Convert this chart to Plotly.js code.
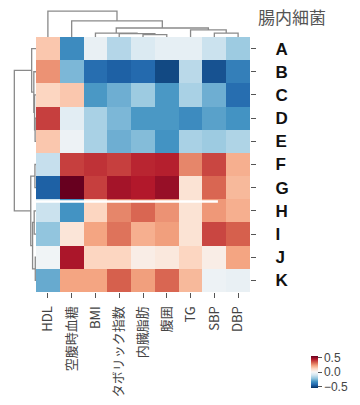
<!DOCTYPE html>
<html><head><meta charset="utf-8">
<script src="https://cdn.plot.ly/plotly-3.0.1.min.js"></script>
<style>html,body{margin:0;padding:0;background:#fff}</style>
</head><body><div id="chart" style="width:360px;height:405px"></div>
<script>
// ---- data ----
const columns = ["HDL","空腹時血糖","BMI","タボリック指数","内臓脂肪","腹囲","TG","SBP","DBP"];
const rows = ["A","B","C","D","E","F","G","H","I","J","K"];
const rowA = [ 0.15,-0.35,-0.04,-0.16,-0.08,-0.05,-0.05,-0.12,-0.20];
const rowB = [ 0.25,-0.25,-0.42,-0.45,-0.43,-0.50,-0.15,-0.48,-0.38];
const rowC = [ 0.12, 0.15,-0.32,-0.27,-0.20,-0.32,-0.18,-0.27,-0.42];
const rowD = [ 0.38,-0.06,-0.18,-0.25,-0.32,-0.32,-0.35,-0.30,-0.33];
const rowE = [ 0.15,-0.03,-0.18,-0.27,-0.24,-0.33,-0.18,-0.20,-0.17];
const rowF = [-0.13, 0.38, 0.40, 0.38, 0.42, 0.43, 0.27, 0.37, 0.20];
const rowG = [-0.45, 0.55, 0.38, 0.46, 0.44, 0.48, 0.08, 0.32, 0.18];
const rowH = [-0.12,-0.33, 0.12, 0.27, 0.32, 0.25, 0.08, 0.24, 0.20];
const rowI = [-0.22, 0.07, 0.22, 0.30, 0.20, 0.23, 0.08, 0.37, 0.33];
const rowJ = [-0.02, 0.45, 0.12, 0.12, 0.04, 0.06, 0.12, 0.04, 0.22];
const rowK = [-0.28, 0.22, 0.22, 0.33, 0.23, 0.32, 0.18,-0.03,-0.04];
const colorTicks = [-0.5, 0, 0.5];
const colorTickText = ["−0.5","0.0","0.5"];

// column dendrogram (leaf positions, heights)
const colLinkPos = [[7,7,8,8],[6,6,7.5,7.5],[4,4,5,5],[3,3,4.5,4.5],[2,2,3.75,3.75],[2.875,2.875,6.75,6.75],[1,1,4.8125,4.8125],[0,0,2.906,2.906]];
const colLinkH   = [[0,.9,.9,0],[0,1.6,1.6,.9],[0,.55,.55,0],[0,.75,.75,.55],[0,.9,.9,.75],[.9,2.05,2.05,1.6],[0,3.65,3.65,2.05],[0,5.9,5.9,3.65]];
// row dendrogram
const rowLinkPos = [[3,3,4,4],[2,2,3.5,3.5],[1,1,2.75,2.75],[0,0,1.875,1.875],[5,5,6,6],[7,7,8,8],[9,9,10,10],[7.5,7.5,9.5,9.5],[5.5,5.5,8.5,8.5],[0.9375,0.9375,7,7]];
const rowLinkH   = [[0,.25,.25,0],[0,.4,.4,.25],[0,.6,.6,.4],[0,1.2,1.2,.6],[0,.3,.3,0],[0,.5,.5,0],[0,.2,.2,0],[.5,.95,.95,.2],[.3,1.45,1.45,.95],[1.2,6,6,1.45]];

// ---- build ----
const z = [rowA,rowB,rowC,rowD,rowE,rowF,rowG,rowH,rowI,rowJ,rowK];
const colIdx = columns.map((_,i)=>i);
const rowIdx = rows.map((_,i)=>i);
const rdbu = [[0,'#053061'],[0.1,'#2166ac'],[0.2,'#4393c3'],[0.3,'#92c5de'],[0.4,'#d1e5f0'],[0.5,'#f7f7f7'],[0.6,'#fddbc7'],[0.7,'#f4a582'],[0.8,'#d6604d'],[0.9,'#b2182b'],[1,'#67001f']];

const traces = [{
  type:'heatmap', z:z, x:colIdx, y:rowIdx, colorscale:rdbu, zmin:-0.55, zmax:0.55,
  xaxis:'x', yaxis:'y', hoverinfo:'skip',
  colorbar:{x:311/360, xanchor:'left', y:1-372/405, yanchor:'middle', lenmode:'pixels', len:32,
    ypad:0, xpad:0, thickness:7, outlinewidth:0, ticks:'outside', ticklen:4, tickcolor:'#555',
    tickvals:colorTicks, ticktext:colorTickText,
    tickfont:{family:'Liberation Sans, Arial, sans-serif', size:12, color:'#444'}}
}];
const dcol = {color:'#8a8a8a', width:1.3};
let cx=[], cy=[];
colLinkPos.forEach((p,i)=>{cx.push(...p,null); cy.push(...colLinkH[i],null);});
traces.push({type:'scatter', mode:'lines', x:cx, y:cy, xaxis:'x2', yaxis:'y2', line:dcol, hoverinfo:'skip', connectgaps:false});
let rx=[], ry=[];
rowLinkPos.forEach((p,i)=>{ry.push(...p,null); rx.push(...rowLinkH[i],null);});
traces.push({type:'scatter', mode:'lines', x:rx, y:ry, xaxis:'x3', yaxis:'y3', line:dcol, hoverinfo:'skip', connectgaps:false});

const hmX=[36/360, 250/360], hmY=[1-292/405, 1-37/405];
const layout = {
  width:360, height:405, margin:{l:0,r:0,t:0,b:0,pad:0},
  paper_bgcolor:'#fff', plot_bgcolor:'#fff', showlegend:false,
  xaxis:{domain:hmX, range:[-0.5,8.5], anchor:'y', tickvals:colIdx, ticktext:columns, tickangle:-90,
    ticks:'outside', ticklen:5, tickcolor:'#555', showgrid:false, zeroline:false, showline:false,
    ticklabelstandoff:3,
    tickfont:{family:'Noto Sans CJK JP, sans-serif', size:13, color:'#444'}},
  yaxis:{domain:hmY, range:[10.5,-0.5], anchor:'x', side:'right', tickvals:rowIdx, ticktext:rows,
    ticks:'outside', ticklen:5, tickcolor:'#555', showgrid:false, zeroline:false, showline:false,
    ticklabelstandoff:16,
    tickfont:{family:'Liberation Sans, Arial, sans-serif', size:17, color:'#111', weight:'bold'}},
  xaxis2:{domain:hmX, range:[-0.5,8.5], anchor:'y2', visible:false},
  yaxis2:{domain:[1-37/405, 1-8/405], range:[0,6.6], anchor:'x2', visible:false},
  xaxis3:{domain:[10/360, 36/360], range:[7.2,0], anchor:'y3', visible:false},
  yaxis3:{domain:hmY, range:[10.5,-0.5], anchor:'x3', visible:false},
  annotations:[{text:'腸内細菌', xref:'paper', yref:'paper', x:292/360, y:1-17/405, xanchor:'center', yanchor:'middle',
    showarrow:false, font:{family:'Noto Sans CJK JP, sans-serif', size:17, color:'#555'}}],
  shapes:[{type:'line', xref:'x', yref:'y', x0:-0.6, x1:7.15, y0:6.6, y1:6.6, line:{color:'#ffffff', width:2.5}}]
};
Plotly.newPlot('chart', traces, layout, {displayModeBar:false, staticPlot:true});
</script></body></html>
